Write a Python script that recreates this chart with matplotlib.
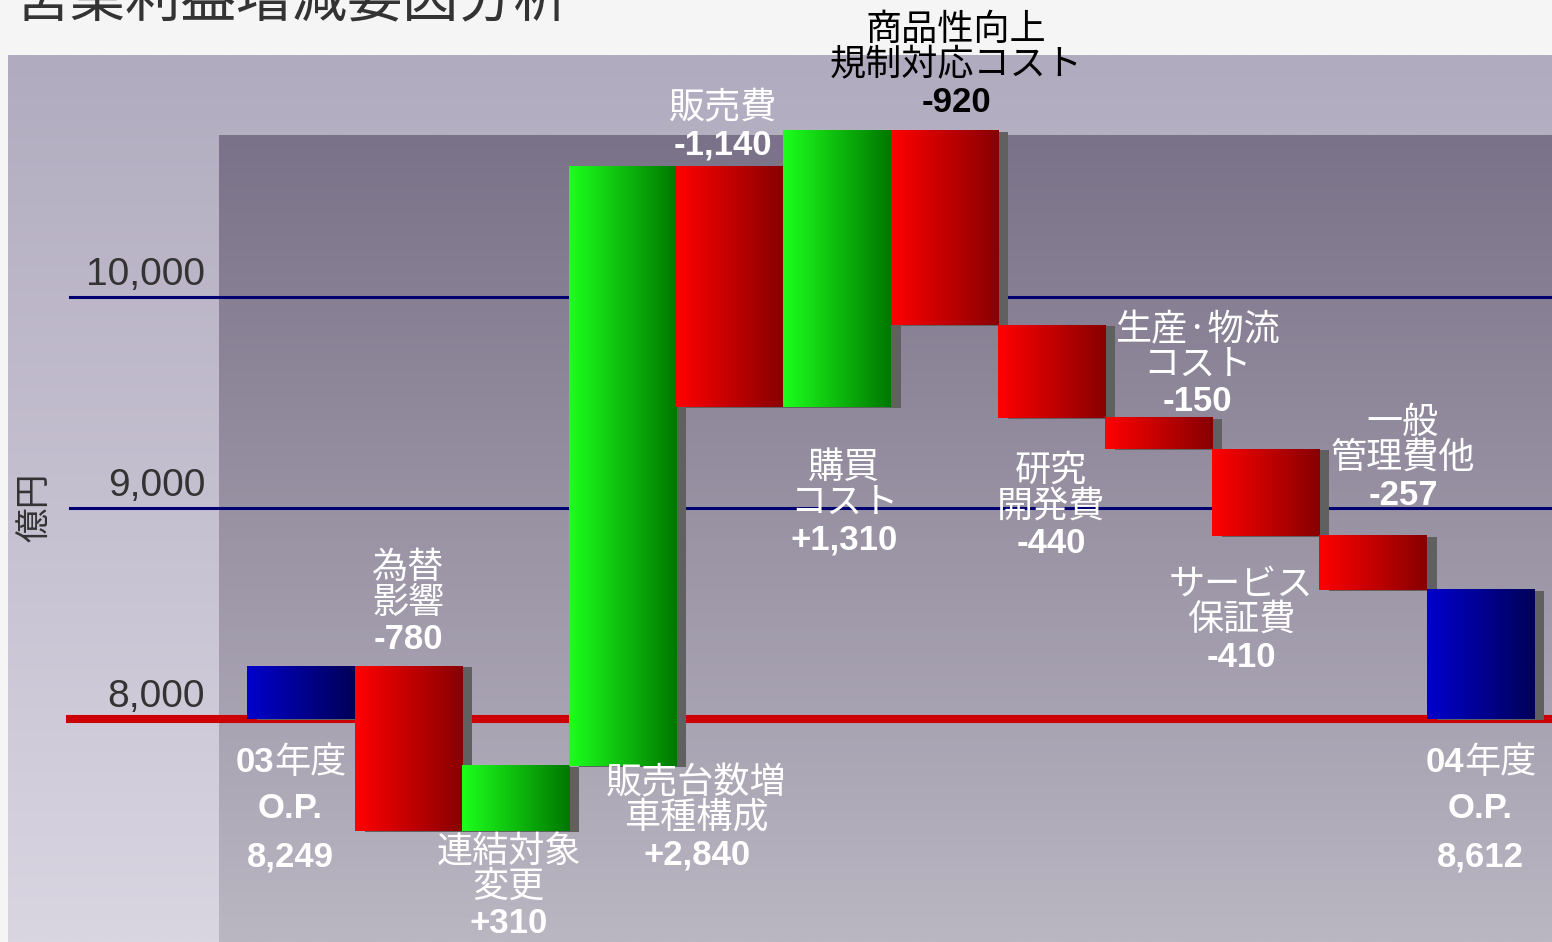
import numpy as np
import matplotlib
matplotlib.use('Agg')
import matplotlib.pyplot as plt
from matplotlib.colors import to_rgb
from matplotlib.patches import Rectangle
from matplotlib.transforms import offset_copy, blended_transform_factory

# --- data (億円) ---
start_year = ('03', '年度')
end_year = ('04', '年度')
op_name = 'O.P.'
start_value = 8249
end_value = 8612
axis_base = 8000

factor_names = [
    ['為替', '影響'],
    ['連結対象', '変更'],
    ['販売台数増', '車種構成'],
    ['販売費'],
    ['購買', 'コスト'],
    ['商品性向上', '規制対応コスト'],
    ['研究', '開発費'],
    ['生産·物流', 'コスト'],
    ['サービス', '保証費'],
    ['一般', '管理費他'],
]
factor_values = [-780, 310, 2840, -1140, 1310, -920, -440, -150, -410, -257]

grid_values = [8000, 9000, 10000]
grid_labels = ['8,000', '9,000', '10,000']

# --- label placement (layout only) ---
label_dx = [-0.10, 0.0, -0.06, 0.69, -0.06, 0.07, 0.11, 0.0, 0.36, -0.23, 0.28, 0.0]
label_y = [7792, 8716, 7370, 7697, 10896, 9190, 11265, 9175, 9844, 8635, 9403, 7792]

CJK = ['Noto Sans CJK JP', 'DejaVu Sans']
LAT = ['Liberation Sans', 'Noto Sans CJK JP']

RED = ('#ff0000', '#880000')
GREEN = ('#1cff1c', '#007800')
BLUE = ('#0000cc', '#000058')

fig = plt.figure(figsize=(15.52, 9.42), dpi=100, facecolor='#f5f5f5')

# background panels
bg = fig.add_axes([0, 0, 1, 1], zorder=0)
bg.axis('off')


def vgrad(c_top, c_bot):
    return np.linspace(to_rgb(c_top), to_rgb(c_bot), 256)[:, None, :]


bg.imshow(vgrad('#b1abbf', '#d9d5e1'), extent=[8 / 1552, 1, 0, 1 - 55 / 942],
          aspect='auto', interpolation='bilinear')
bg.imshow(vgrad('#7a7288', '#bab6c2'), extent=[219 / 1552, 1, 0, 1 - 135 / 942],
          aspect='auto', interpolation='bilinear')
bg.set_xlim(0, 1)
bg.set_ylim(0, 1)

ax = fig.add_axes([0, 0, 1, 1], zorder=1)
ax.set_facecolor('none')
ax.axis('off')

# grid lines
for v in grid_values:
    if v == axis_base:
        ax.axhline(v, xmin=70 / 1552, xmax=1, color='#cc0000', lw=5.8, zorder=1)
    else:
        ax.axhline(v, xmin=70 / 1552, xmax=1, color='#000070', lw=2.2, zorder=1)

ytr = blended_transform_factory(ax.transAxes, ax.transData)
ytr = offset_copy(ytr, fig=fig, x=0, y=4, units='dots')
for v, s in zip(grid_values, grid_labels):
    ax.text(205 / 1552, v, s, transform=ytr, ha='right', va='bottom',
            fontsize=28, color='#333333', family=LAT)

shadow_tr = offset_copy(ax.transData, fig=fig, x=10, y=-1, units='dots')


def bar(x, y0, y1, colors, width=1.0):
    img = np.linspace(to_rgb(colors[0]), to_rgb(colors[1]), 64)[None, :, :]
    ax.imshow(img, extent=[x - width / 2, x + width / 2, y0, y1],
              aspect='auto', interpolation='bilinear', zorder=3)
    ax.add_patch(Rectangle((x - width / 2, y0), width, y1 - y0,
                           transform=shadow_tr, color='#606060', lw=0, zorder=2))


# bars
n = len(factor_values)
levels = start_value + np.cumsum(factor_values)
prev = np.concatenate([[start_value], levels[:-1]])

bar(0, axis_base, start_value, BLUE)
for i, (p, c, v) in enumerate(zip(prev, levels, factor_values)):
    bar(i + 1, min(p, c), max(p, c), GREEN if v > 0 else RED)
bar(n + 1, axis_base, levels[-1], BLUE)


def shifted(dx=0, dy=0):
    return offset_copy(ax.transData, fig=fig, x=dx, y=dy, units='dots')


# factor labels
def label(i, lines, value_text, color):
    x = i + label_dx[i]
    y = label_y[i]
    off = 0
    for k, s in enumerate(lines):
        ax.text(x, y, s, transform=shifted(0, -off), ha='center', va='center',
                fontsize=26, color=color, family=CJK, zorder=5)
        off += 35 if k < len(lines) - 1 else 37
    ax.text(x, y, value_text, transform=shifted(0, -off), ha='center', va='center',
            fontsize=25, color=color, family=LAT, weight='bold', zorder=5)


# O.P. labels
def op_label(i, year, value):
    x = i + label_dx[i]
    y = label_y[i]
    ax.text(x, y, year[0], transform=shifted(-16, 0), ha='right', va='center',
            fontsize=25, color='white', family=LAT, weight='bold', zorder=5)
    ax.text(x, y, year[1], transform=shifted(-16, 0), ha='left', va='center',
            fontsize=26, color='white', family=CJK, zorder=5)
    ax.text(x, y, op_name, transform=shifted(0, -46), ha='center', va='center',
            fontsize=25, color='white', family=LAT, weight='bold', zorder=5)
    ax.text(x, y, f'{value:,}', transform=shifted(0, -94), ha='center', va='center',
            fontsize=25, color='white', family=LAT, weight='bold', zorder=5)


op_label(0, start_year, start_value)
for i, (names, v) in enumerate(zip(factor_names, factor_values)):
    col = 'black' if i == 5 else 'white'
    label(i + 1, names, f'{v:+,}', col)
op_label(n + 1, end_year, end_value)

ax.set_xlim(-2.808, 11.670)
ax.set_ylim(6943, 11408)

fig.text(36 / 1552, 1 - 507 / 942, '億円', rotation=90, ha='center', va='center',
         fontsize=25, color='#333333', family=CJK)
fig.text(15 / 1552, 1 - 16 / 942, '営業利益増減要因分析', ha='left', va='baseline',
         fontsize=40, color='#333333', family=CJK)

fig.savefig('out.png', dpi=100, facecolor=fig.get_facecolor())
